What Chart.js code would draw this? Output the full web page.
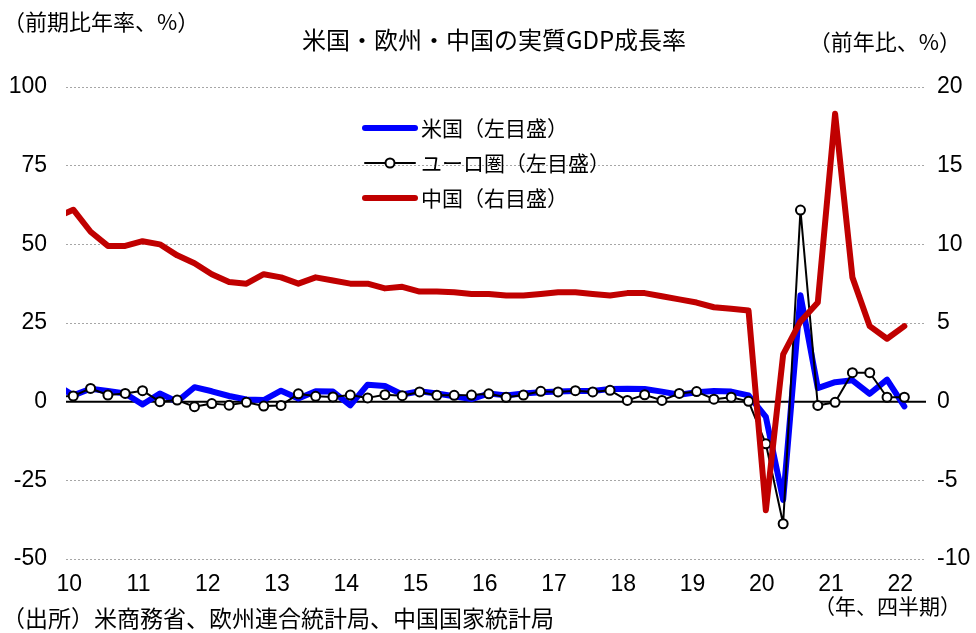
<!DOCTYPE html>
<html>
<head>
<meta charset="utf-8">
<script src="https://cdn.jsdelivr.net/npm/chart.js@4.4.1/dist/chart.umd.min.js"></script>
<style>
  body { margin: 0; background: #fff; }
  #wrap { width: 976px; height: 633px; }
</style>
</head>
<body>
<div id="wrap"><canvas id="gdpChart" width="976" height="633"></canvas></div>
<script>
// quarterly series, 2009Q4 .. 2022Q1
var usGrowth = [
  5.4,
  2.0, 4.1, 3.4, 2.6,
  -0.9, 2.6, 0.0, 4.6,
  3.3, 1.8, 0.7, 0.5,
  3.5, 1.0, 3.3, 3.2,
  -1.2, 5.4, 5.0, 2.3,
  3.3, 2.6, 1.7, 0.8,
  2.6, 2.0, 2.6, 3.0,
  3.2, 3.4, 3.4, 4.0,
  4.1, 4.0, 3.2, 2.2,
  3.0, 3.4, 3.2, 2.0,
  -4.8, -31.2, 33.8, 4.3,
  6.2, 6.8, 2.5, 7.0,
  -1.5
];
var euroGrowth = [
  1.6,
  1.8, 4.2, 2.1, 2.6,
  3.5, 0.0, 0.5, -1.6,
  -0.6, -1.1, -0.2, -1.4,
  -1.2, 2.5, 1.7, 1.5,
  2.1, 1.2, 2.2, 1.9,
  3.1, 2.0, 2.0, 2.1,
  2.5, 1.4, 2.1, 3.3,
  3.1, 3.5, 3.1, 3.6,
  0.4, 2.2, 0.4, 2.6,
  3.2, 0.8, 1.4, 0.1,
  -13.4, -38.8, 60.9, -1.2,
  -0.2, 9.2, 9.2, 1.4,
  1.4
];
var chinaGrowth = [
  11.7,
  12.2, 10.8, 9.9, 9.9,
  10.2, 10.0, 9.3, 8.8,
  8.1, 7.6, 7.5, 8.1,
  7.9, 7.5, 7.9, 7.7,
  7.5, 7.5, 7.2, 7.3,
  7.0, 7.0, 6.95, 6.85,
  6.85, 6.75, 6.75, 6.85,
  6.95, 6.95, 6.85, 6.75,
  6.9, 6.9, 6.7, 6.5,
  6.3, 6.0, 5.9, 5.8,
  -6.9, 3.0, 5.1, 6.3,
  18.3, 7.9, 4.8, 4.0,
  4.8
];
var yearLabels = ['10','11','12','13','14','15','16','17','18','19','20','21','22'];
var leftTicks = [100, 75, 50, 25, 0, -25, -50];
var rightTicks = [20, 15, 10, 5, 0, -5, -10];

var seriesNames = ['米国（左目盛）', 'ユーロ圏（左目盛）', '中国（右目盛）'];

// x = quarters counted from 2010Q1 (first value is 2009Q4 -> -1)
function toPoints(arr) {
  return arr.map(function (v, i) { return { x: i - 1, y: v }; });
}

var jpFont = '"Noto Sans CJK JP", "Noto Sans", sans-serif';
var numFont = '"Liberation Sans Narrow", "Liberation Sans", Arial, sans-serif';

// zero line, titles, units and the legend box
var extras = {
  id: 'extras',
  beforeDatasetsDraw: function (chart) {
    var ctx = chart.ctx, a = chart.chartArea;
    var y0 = chart.scales.y.getPixelForValue(0);
    ctx.save();
    ctx.strokeStyle = '#000';
    ctx.lineWidth = 2;
    ctx.beginPath();
    ctx.moveTo(a.left, y0);
    ctx.lineTo(a.right, y0);
    ctx.stroke();
    ctx.restore();
  },
  afterDraw: function (chart) {
    var ctx = chart.ctx;
    ctx.save();
    ctx.fillStyle = '#000';
    ctx.textBaseline = 'middle';

    ctx.font = '24px ' + jpFont;
    ctx.textAlign = 'center';
    ctx.fillText('米国・欧州・中国の実質GDP成長率', 494, 40);

    ctx.textAlign = 'left';
    ctx.font = '22px ' + jpFont;
    ctx.fillText('（前期比年率、%）', 3, 22);
    ctx.font = '23px ' + jpFont;
    ctx.fillText('（出所）米商務省、欧州連合統計局、中国国家統計局', 2, 618);
    ctx.textAlign = 'right';
    ctx.font = '22px ' + jpFont;
    ctx.fillText('（前年比、%）', 961, 42);
    ctx.font = '21px ' + jpFont;
    ctx.fillText('（年、四半期）', 961, 606);

    // legend
    var ds = chart.data.datasets;
    var lx = 365, ly = 128, gap = 35;
    ctx.textAlign = 'left';
    ctx.font = '21px ' + jpFont;
    for (var i = 0; i < ds.length; i++) {
      var y = ly + i * gap;
      ctx.strokeStyle = ds[i].borderColor;
      ctx.lineWidth = ds[i].borderWidth;
      ctx.lineCap = 'round';
      ctx.beginPath();
      ctx.moveTo(lx, y);
      ctx.lineTo(lx + 50, y);
      ctx.stroke();
      if (ds[i].pointRadius > 0) {
        ctx.beginPath();
        ctx.arc(lx + 25, y, ds[i].pointRadius, 0, Math.PI * 2);
        ctx.fillStyle = ds[i].pointBackgroundColor;
        ctx.fill();
        ctx.lineWidth = ds[i].pointBorderWidth;
        ctx.strokeStyle = ds[i].pointBorderColor;
        ctx.stroke();
      }
      ctx.fillStyle = '#000';
      ctx.fillText(seriesNames[i], lx + 56, y);
    }
    ctx.restore();
  }
};

new Chart(document.getElementById('gdpChart'), {
  type: 'line',
  data: {
    datasets: [
      {
        label: seriesNames[0],
        data: toPoints(usGrowth),
        yAxisID: 'y',
        borderColor: '#0000ff',
        borderWidth: 6,
        borderJoinStyle: 'round',
        borderCapStyle: 'round',
        pointRadius: 0,
        tension: 0,
        clip: 0,
        order: 3
      },
      {
        label: seriesNames[1],
        data: toPoints(euroGrowth),
        yAxisID: 'y',
        borderColor: '#000000',
        borderWidth: 2,
        borderJoinStyle: 'round',
        pointRadius: 4.5,
        pointBackgroundColor: '#ffffff',
        pointBorderColor: '#000000',
        pointBorderWidth: 2,
        tension: 0,
        clip: 0,
        order: 2
      },
      {
        label: seriesNames[2],
        data: toPoints(chinaGrowth),
        yAxisID: 'y2',
        borderColor: '#c00000',
        borderWidth: 6,
        borderJoinStyle: 'round',
        borderCapStyle: 'round',
        pointRadius: 0,
        tension: 0,
        clip: 0,
        order: 1
      }
    ]
  },
  options: {
    responsive: false,
    animation: false,
    layout: { padding: { top: 87, left: 0, right: 0, bottom: 0 } },
    plugins: {
      legend: { display: false },
      title: { display: false },
      tooltip: { enabled: false }
    },
    scales: {
      x: {
        type: 'linear',
        min: -0.42,
        max: 49.25,
        afterBuildTicks: function (axis) {
          axis.ticks = yearLabels.map(function (_, k) { return { value: k * 4 }; });
        },
        ticks: {
          callback: function (v, i) { return yearLabels[i]; },
          autoSkip: false,
          maxRotation: 0,
          padding: 12,
          labelOffset: -4,
          color: '#000',
          font: { family: numFont, size: 23 }
        },
        grid: { display: false, drawTicks: false },
        border: { display: false },
        afterFit: function (s) { s.height = 74; }
      },
      y: {
        position: 'left',
        min: -50,
        max: 100,
        afterBuildTicks: function (axis) {
          axis.ticks = leftTicks.map(function (v) { return { value: v }; });
        },
        ticks: {
          padding: 19,
          color: '#000',
          font: { family: numFont, size: 23 }
        },
        grid: {
          drawTicks: false,
          lineWidth: 1,
          color: function (c) { return c.tick && c.tick.value === 0 ? 'rgba(0,0,0,0)' : '#a6a6a6'; }
        },
        border: { display: false, dash: [2, 2] },
        afterFit: function (s) { s.width = 66; }
      },
      y2: {
        position: 'right',
        min: -10,
        max: 20,
        afterBuildTicks: function (axis) {
          axis.ticks = rightTicks.map(function (v) { return { value: v }; });
        },
        ticks: {
          padding: 11,
          color: '#000',
          font: { family: numFont, size: 23 }
        },
        grid: { display: false, drawTicks: false },
        border: { display: false },
        afterFit: function (s) { s.width = 50; }
      }
    }
  },
  plugins: [extras]
});
</script>
</body>
</html>
